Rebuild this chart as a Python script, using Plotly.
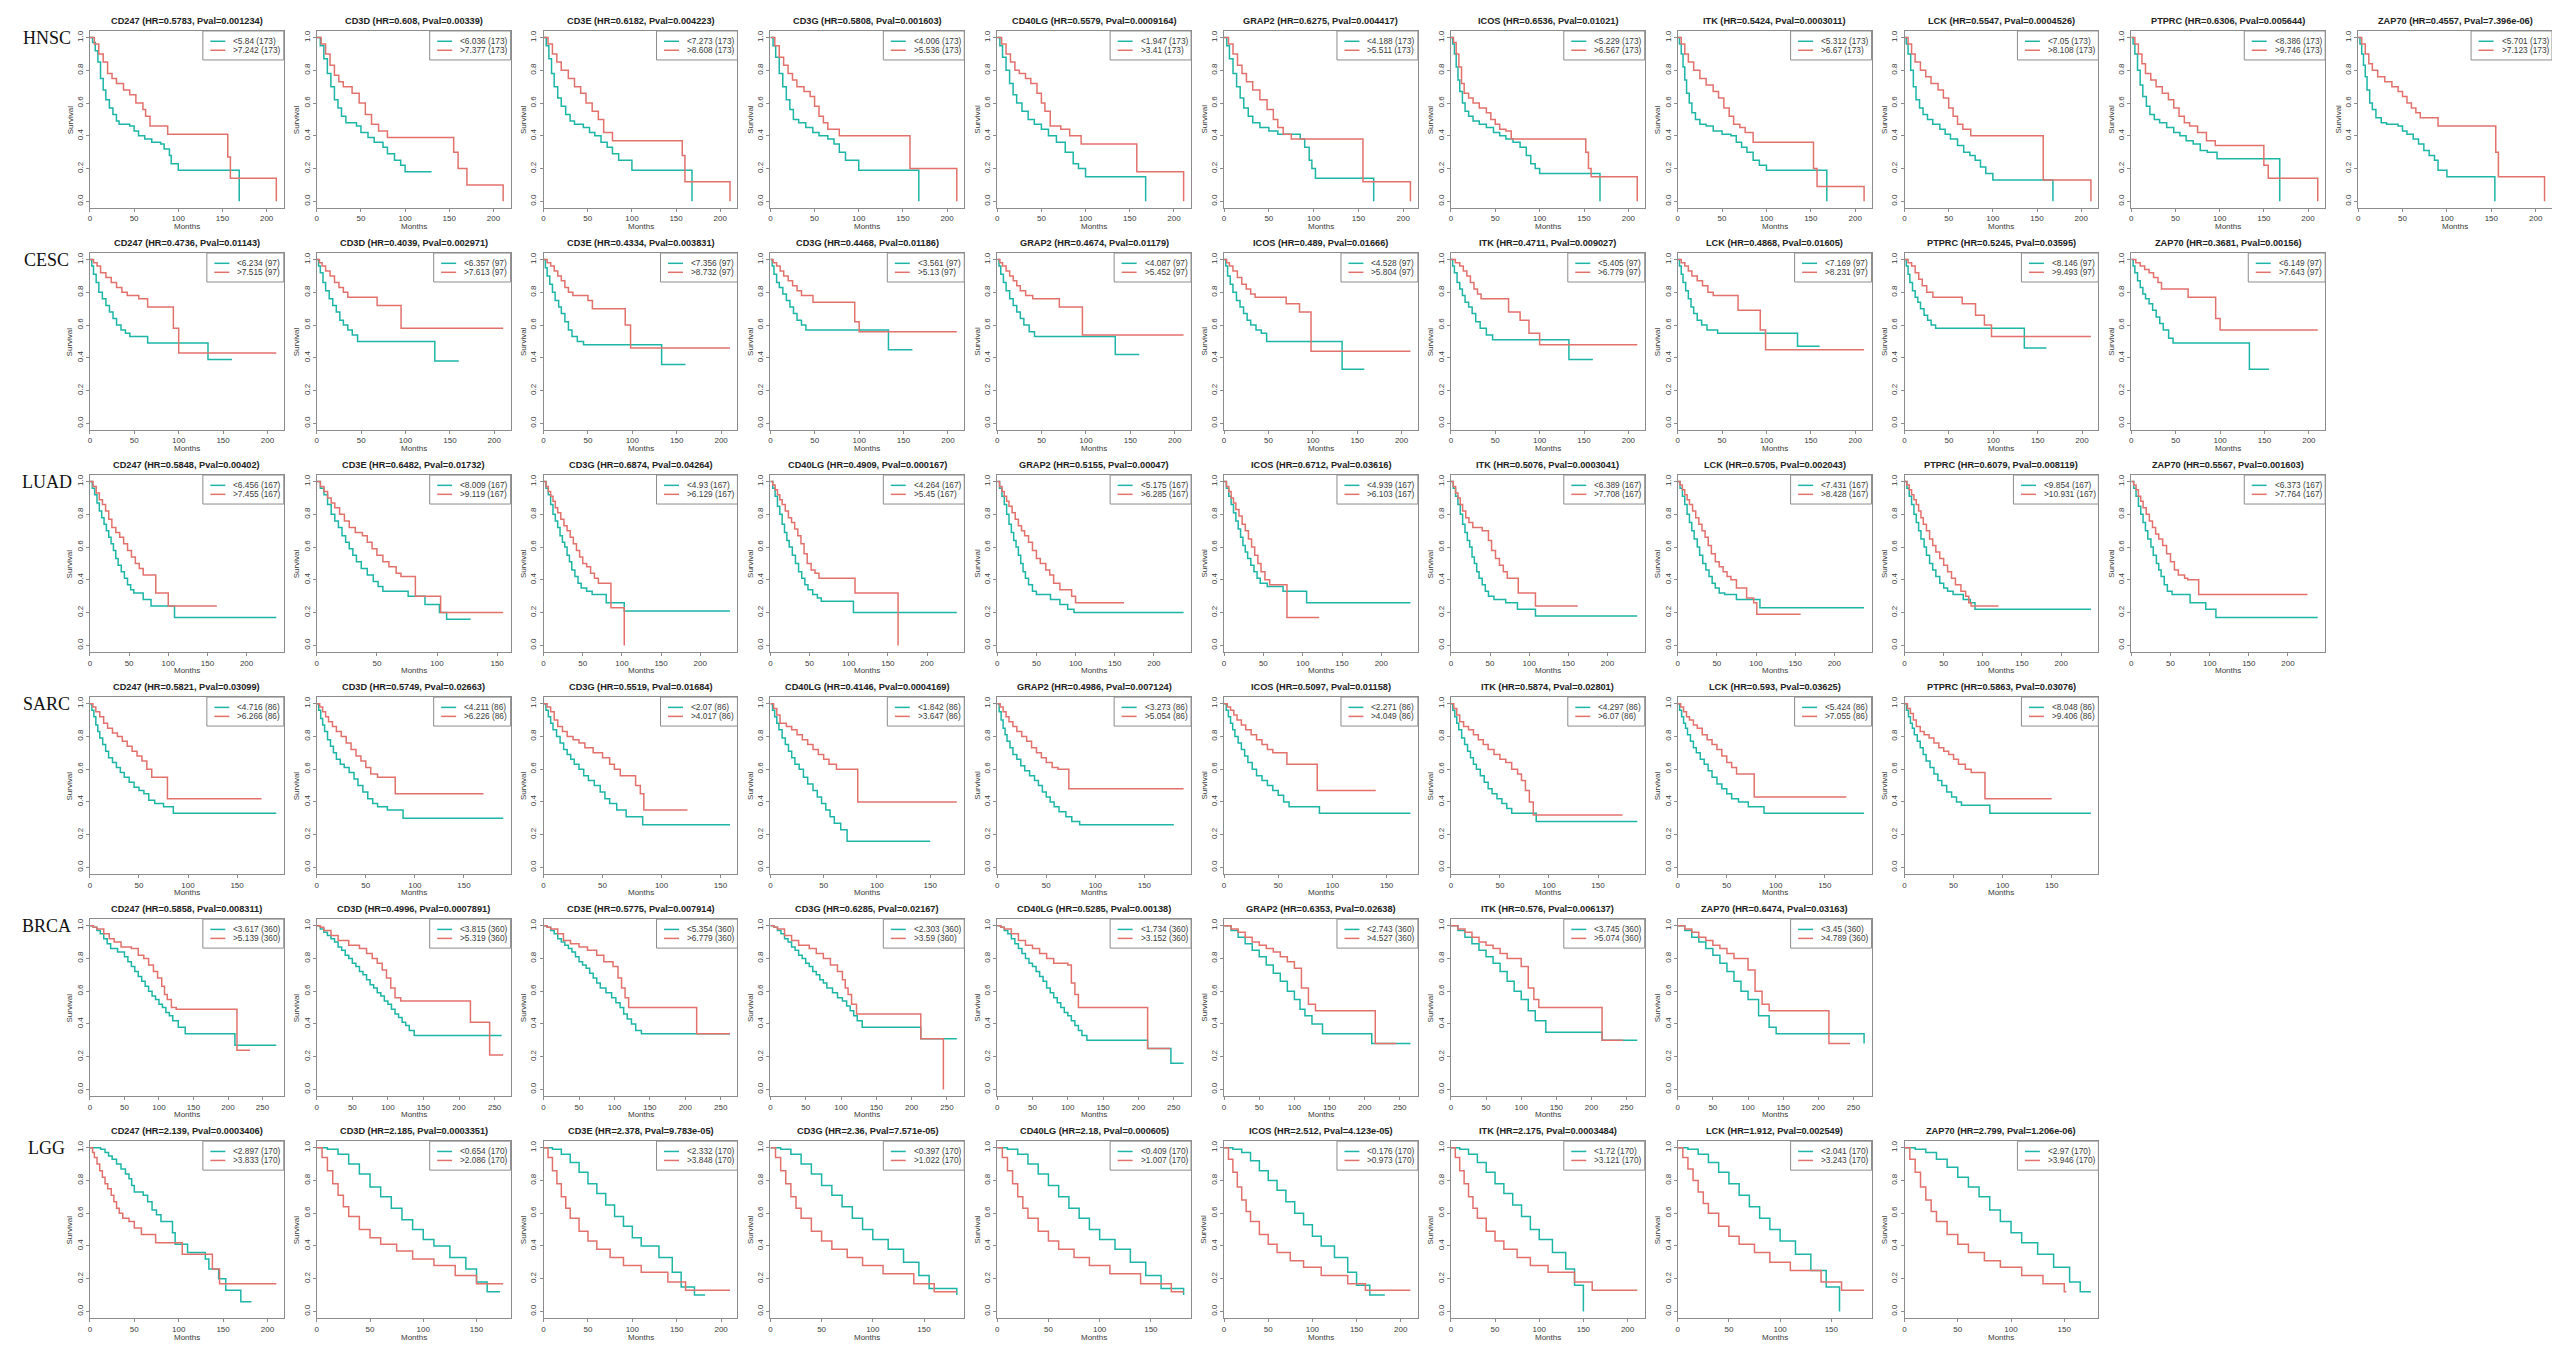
import plotly.graph_objects as go

# ---------------- DATA ----------------
# HNSC (n=173 per group)
HNSC_genes = ["CD247", "CD3D", "CD3E", "CD3G", "CD40LG", "GRAP2", "ICOS", "ITK", "LCK", "PTPRC", "ZAP70"]
HNSC_hr = ["0.5783", "0.608", "0.6182", "0.5808", "0.5579", "0.6275", "0.6536", "0.5424", "0.5547", "0.6306", "0.4557"]
HNSC_pval = ["0.001234", "0.00339", "0.004223", "0.001603", "0.0009164", "0.004417", "0.01021", "0.0003011", "0.0004526", "0.005644", "7.396e-06"]
HNSC_lowcut = ["5.84", "6.036", "7.273", "4.006", "1.947", "4.188", "5.229", "5.312", "7.05", "8.386", "5.701"]
HNSC_highcut = ["7.242", "7.377", "8.608", "5.536", "3.41", "5.511", "6.567", "6.67", "8.108", "9.746", "7.123"]
HNSC_n = 173
HNSC_low = [
    [[0,1],[3,0.97],[6,0.92],[9,0.85],[12,0.75],[15,0.68],[18,0.62],[22,0.57],[26,0.53],[30,0.49],[33,0.47],[45,0.46],[50,0.43],[55,0.40],[62,0.38],[70,0.36],[80,0.35],[84,0.32],[90,0.28],[92,0.23],[100,0.19],[169,0.19],[169,0.0]],
    [[0,1],[4,0.95],[8,0.87],[12,0.78],[16,0.7],[20,0.62],[24,0.57],[28,0.52],[33,0.48],[45,0.46],[50,0.42],[58,0.39],[65,0.36],[75,0.33],[80,0.29],[88,0.25],[95,0.22],[100,0.18],[130,0.18]],
    [[0,1],[3,0.95],[6,0.87],[9,0.78],[12,0.7],[16,0.63],[20,0.58],[25,0.53],[30,0.49],[35,0.47],[45,0.45],[52,0.42],[58,0.4],[65,0.36],[72,0.33],[78,0.29],[85,0.25],[100,0.19],[168,0.19],[168,0.0]],
    [[0,1],[3,0.95],[6,0.88],[10,0.78],[14,0.7],[18,0.62],[22,0.56],[26,0.5],[32,0.48],[40,0.45],[48,0.42],[55,0.4],[65,0.38],[72,0.35],[78,0.3],[85,0.25],[100,0.19],[168,0.19],[168,0.0]],
    [[0,1],[3,0.95],[6,0.88],[10,0.8],[14,0.72],[18,0.65],[22,0.6],[28,0.55],[35,0.5],[42,0.47],[50,0.44],[58,0.4],[67,0.36],[77,0.3],[86,0.23],[92,0.2],[100,0.15],[168,0.15],[168,0.0]],
    [[0,1],[3,0.95],[6,0.87],[10,0.78],[14,0.7],[18,0.63],[22,0.57],[27,0.52],[32,0.48],[40,0.45],[50,0.43],[60,0.41],[85,0.38],[90,0.33],[95,0.25],[98,0.2],[102,0.14],[167,0.14],[167,0.0]],
    [[0,1],[2,0.96],[4,0.9],[6,0.82],[8,0.74],[10,0.67],[13,0.6],[16,0.55],[20,0.52],[25,0.49],[32,0.47],[40,0.45],[48,0.42],[55,0.4],[62,0.38],[70,0.36],[78,0.33],[85,0.28],[90,0.23],[95,0.2],[100,0.17],[168,0.17],[168,0.0]],
    [[0,1],[2,0.96],[4,0.9],[6,0.82],[8,0.74],[10,0.66],[13,0.6],[16,0.54],[20,0.5],[25,0.47],[32,0.46],[40,0.43],[50,0.41],[60,0.4],[66,0.36],[72,0.33],[78,0.3],[85,0.25],[92,0.22],[100,0.19],[168,0.19],[168,0.0]],
    [[0,1],[2,0.96],[4,0.9],[7,0.8],[10,0.7],[13,0.62],[17,0.57],[21,0.53],[26,0.5],[32,0.47],[40,0.44],[46,0.41],[52,0.38],[60,0.34],[67,0.3],[74,0.28],[80,0.25],[86,0.21],[92,0.17],[100,0.13],[168,0.13],[168,0.0]],
    [[0,1],[2,0.96],[4,0.9],[7,0.8],[10,0.71],[13,0.64],[17,0.58],[21,0.53],[26,0.5],[32,0.48],[40,0.45],[48,0.42],[55,0.4],[62,0.37],[70,0.35],[78,0.31],[86,0.3],[97,0.26],[168,0.26],[168,0.0]],
    [[0,1],[2,0.96],[4,0.9],[6,0.83],[8,0.76],[10,0.68],[13,0.6],[16,0.56],[20,0.51],[26,0.48],[32,0.47],[45,0.46],[50,0.43],[55,0.41],[62,0.38],[68,0.35],[74,0.31],[80,0.28],[86,0.25],[90,0.19],[100,0.15],[154,0.15],[154,0.0]],
]
HNSC_high = [
    [[0,1],[5,0.96],[10,0.9],[15,0.85],[20,0.78],[25,0.75],[30,0.72],[38,0.68],[45,0.65],[52,0.6],[60,0.56],[63,0.52],[68,0.46],[88,0.41],[156,0.27],[159,0.14],[211,0.14],[211,0.0]],
    [[0,1],[5,0.96],[10,0.9],[15,0.83],[20,0.77],[25,0.73],[30,0.7],[40,0.66],[48,0.6],[55,0.53],[62,0.47],[70,0.43],[80,0.39],[155,0.3],[160,0.2],[170,0.1],[211,0.1],[211,0.0]],
    [[0,1],[5,0.96],[10,0.9],[15,0.85],[20,0.8],[28,0.75],[35,0.7],[42,0.66],[48,0.6],[55,0.55],[62,0.5],[68,0.42],[78,0.37],[157,0.28],[160,0.12],[211,0.12],[211,0.0]],
    [[0,1],[5,0.95],[10,0.88],[15,0.83],[20,0.78],[25,0.74],[30,0.7],[38,0.67],[45,0.64],[50,0.58],[55,0.52],[60,0.48],[65,0.44],[78,0.4],[158,0.2],[211,0.2],[211,0.0]],
    [[0,1],[5,0.96],[10,0.9],[15,0.85],[20,0.8],[25,0.78],[32,0.75],[38,0.72],[45,0.66],[50,0.6],[54,0.55],[60,0.46],[72,0.44],[82,0.4],[95,0.35],[158,0.18],[211,0.18],[211,0.0]],
    [[0,1],[5,0.96],[10,0.9],[15,0.83],[20,0.78],[25,0.73],[32,0.68],[40,0.62],[48,0.56],[55,0.5],[60,0.45],[66,0.41],[75,0.38],[155,0.12],[208,0.12],[208,0.0]],
    [[0,1],[3,0.97],[6,0.9],[9,0.82],[12,0.72],[15,0.66],[20,0.63],[25,0.6],[32,0.57],[40,0.54],[45,0.5],[50,0.47],[55,0.44],[62,0.43],[68,0.38],[152,0.3],[155,0.2],[158,0.15],[210,0.15],[210,0.0]],
    [[0,1],[4,0.96],[8,0.9],[12,0.85],[18,0.8],[25,0.75],[32,0.71],[40,0.67],[46,0.63],[52,0.57],[58,0.52],[63,0.47],[70,0.45],[76,0.42],[85,0.36],[153,0.2],[157,0.09],[210,0.09],[210,0.0]],
    [[0,1],[4,0.96],[8,0.9],[12,0.85],[18,0.8],[24,0.76],[30,0.72],[38,0.68],[44,0.63],[50,0.57],[55,0.52],[60,0.47],[66,0.44],[75,0.4],[157,0.13],[211,0.13],[211,0.0]],
    [[0,1],[4,0.96],[8,0.9],[12,0.84],[16,0.78],[22,0.74],[28,0.7],[35,0.66],[42,0.62],[48,0.57],[54,0.52],[60,0.48],[66,0.46],[75,0.42],[85,0.37],[95,0.34],[150,0.22],[155,0.14],[211,0.14],[211,0.0]],
    [[0,1],[4,0.96],[8,0.9],[12,0.84],[16,0.8],[22,0.76],[30,0.73],[38,0.7],[45,0.67],[50,0.64],[55,0.6],[60,0.57],[65,0.54],[70,0.51],[90,0.46],[155,0.3],[158,0.15],[210,0.15],[210,0.0]],
]

# CESC (n=97 per group)
CESC_genes = ["CD247", "CD3D", "CD3E", "CD3G", "GRAP2", "ICOS", "ITK", "LCK", "PTPRC", "ZAP70"]
CESC_hr = ["0.4736", "0.4039", "0.4334", "0.4468", "0.4674", "0.489", "0.4711", "0.4868", "0.5245", "0.3681"]
CESC_pval = ["0.01143", "0.002971", "0.003831", "0.01186", "0.01179", "0.01666", "0.009027", "0.01605", "0.03595", "0.00156"]
CESC_lowcut = ["6.234", "6.357", "7.356", "3.561", "4.087", "4.528", "5.405", "7.169", "8.146", "6.149"]
CESC_highcut = ["7.515", "7.613", "8.732", "5.13", "5.452", "5.804", "6.779", "8.231", "9.493", "7.643"]
CESC_n = 97
CESC_low = [
    [[0,1],[2,0.96],[4,0.91],[7,0.86],[10,0.8],[14,0.76],[18,0.72],[22,0.68],[26,0.64],[30,0.6],[35,0.57],[40,0.55],[45,0.53],[65,0.49],[133,0.39],[160,0.39]],
    [[0,1],[2,0.96],[4,0.92],[7,0.86],[10,0.81],[14,0.76],[18,0.72],[22,0.68],[26,0.63],[30,0.6],[35,0.57],[40,0.54],[46,0.5],[133,0.38],[160,0.38]],
    [[0,1],[2,0.95],[4,0.9],[7,0.85],[10,0.8],[13,0.75],[17,0.71],[20,0.67],[24,0.62],[28,0.57],[32,0.53],[38,0.5],[45,0.48],[133,0.36],[160,0.36]],
    [[0,1],[2,0.96],[4,0.91],[7,0.86],[10,0.83],[14,0.79],[18,0.75],[22,0.71],[26,0.67],[30,0.63],[35,0.6],[40,0.57],[133,0.45],[160,0.45]],
    [[0,1],[2,0.96],[4,0.91],[7,0.86],[10,0.81],[14,0.76],[18,0.72],[22,0.68],[26,0.64],[30,0.6],[36,0.56],[42,0.53],[133,0.42],[160,0.42]],
    [[0,1],[2,0.96],[4,0.9],[7,0.85],[10,0.8],[14,0.75],[18,0.71],[22,0.67],[26,0.63],[30,0.6],[36,0.57],[42,0.55],[48,0.5],[133,0.33],[158,0.33]],
    [[0,1],[2,0.96],[4,0.92],[7,0.86],[10,0.82],[13,0.78],[16,0.74],[20,0.71],[24,0.67],[28,0.62],[33,0.58],[40,0.54],[47,0.51],[133,0.39],[160,0.39]],
    [[0,1],[2,0.96],[4,0.91],[6,0.86],[9,0.81],[12,0.76],[15,0.71],[18,0.67],[22,0.63],[27,0.6],[33,0.57],[45,0.55],[135,0.47],[160,0.47]],
    [[0,1],[2,0.96],[4,0.91],[6,0.86],[9,0.81],[12,0.77],[15,0.74],[18,0.7],[22,0.66],[26,0.63],[30,0.6],[35,0.58],[135,0.46],[160,0.46]],
    [[0,1],[2,0.96],[4,0.92],[7,0.87],[10,0.83],[13,0.79],[16,0.76],[20,0.73],[24,0.69],[28,0.65],[32,0.61],[36,0.57],[42,0.52],[47,0.49],[133,0.33],[155,0.33]],
]
CESC_high = [
    [[0,1],[4,0.98],[8,0.96],[12,0.92],[18,0.89],[24,0.86],[30,0.83],[36,0.8],[42,0.78],[55,0.76],[65,0.71],[94,0.58],[100,0.43],[210,0.43]],
    [[0,1],[3,0.98],[6,0.96],[10,0.93],[15,0.9],[20,0.86],[25,0.83],[30,0.8],[35,0.77],[68,0.72],[95,0.58],[210,0.58]],
    [[0,1],[4,0.98],[8,0.96],[12,0.93],[16,0.9],[20,0.87],[24,0.83],[28,0.8],[33,0.78],[50,0.75],[55,0.7],[92,0.6],[98,0.46],[210,0.46]],
    [[0,1],[3,0.98],[7,0.96],[11,0.93],[15,0.9],[20,0.87],[25,0.84],[30,0.81],[35,0.78],[48,0.74],[95,0.62],[100,0.56],[210,0.56]],
    [[0,1],[3,0.98],[6,0.96],[10,0.93],[14,0.9],[18,0.87],[22,0.84],[26,0.81],[32,0.78],[40,0.76],[70,0.71],[96,0.54],[210,0.54]],
    [[0,1],[3,0.98],[6,0.96],[10,0.93],[15,0.89],[20,0.85],[25,0.82],[30,0.79],[35,0.77],[70,0.73],[85,0.68],[98,0.44],[210,0.44]],
    [[0,1],[5,0.98],[10,0.96],[14,0.93],[18,0.9],[22,0.86],[26,0.82],[30,0.79],[34,0.76],[65,0.68],[78,0.63],[88,0.55],[100,0.48],[210,0.48]],
    [[0,1],[4,0.98],[8,0.96],[12,0.93],[16,0.9],[22,0.87],[28,0.84],[34,0.8],[40,0.78],[68,0.69],[93,0.57],[99,0.45],[210,0.45]],
    [[0,1],[4,0.98],[8,0.96],[12,0.92],[16,0.88],[20,0.84],[25,0.8],[32,0.77],[65,0.73],[80,0.66],[90,0.6],[98,0.53],[210,0.53]],
    [[0,1],[5,0.98],[10,0.96],[15,0.94],[20,0.92],[25,0.89],[30,0.86],[34,0.82],[64,0.77],[95,0.64],[100,0.57],[210,0.57]],
]

# LUAD (n=167 per group)
LUAD_genes = ["CD247", "CD3E", "CD3G", "CD40LG", "GRAP2", "ICOS", "ITK", "LCK", "PTPRC", "ZAP70"]
LUAD_hr = ["0.5848", "0.6482", "0.6874", "0.4909", "0.5155", "0.6712", "0.5076", "0.5705", "0.6079", "0.5567"]
LUAD_pval = ["0.00402", "0.01732", "0.04264", "0.000167", "0.00047", "0.03616", "0.0003041", "0.002043", "0.008119", "0.001603"]
LUAD_lowcut = ["6.456", "8.009", "4.93", "4.264", "5.175", "4.939", "6.389", "7.431", "9.854", "6.373"]
LUAD_highcut = ["7.455", "9.119", "6.129", "5.45", "6.285", "6.103", "7.708", "8.428", "10.931", "7.764"]
LUAD_n = 167
LUAD_low = [
    [[0,1],[3,0.96],[6,0.92],[9,0.87],[12,0.82],[15,0.78],[18,0.74],[21,0.7],[24,0.66],[27,0.62],[30,0.58],[33,0.53],[36,0.49],[40,0.45],[44,0.41],[48,0.37],[52,0.34],[56,0.32],[68,0.28],[78,0.24],[108,0.17],[238,0.17]],
    [[0,1],[3,0.96],[6,0.92],[9,0.86],[12,0.8],[15,0.76],[18,0.72],[21,0.67],[24,0.63],[27,0.59],[30,0.55],[33,0.51],[37,0.47],[42,0.43],[47,0.39],[51,0.36],[55,0.33],[76,0.3],[90,0.25],[102,0.2],[108,0.16],[128,0.16]],
    [[0,1],[3,0.96],[6,0.92],[9,0.86],[12,0.8],[15,0.76],[18,0.72],[21,0.67],[24,0.63],[27,0.6],[30,0.55],[33,0.51],[36,0.46],[40,0.42],[44,0.38],[48,0.35],[55,0.33],[62,0.31],[80,0.26],[103,0.21],[238,0.21]],
    [[0,1],[3,0.96],[6,0.91],[9,0.85],[12,0.8],[15,0.74],[18,0.69],[21,0.64],[24,0.6],[28,0.55],[32,0.5],[36,0.45],[40,0.41],[44,0.37],[48,0.34],[54,0.31],[60,0.29],[65,0.27],[106,0.2],[238,0.2]],
    [[0,1],[3,0.96],[6,0.91],[9,0.86],[12,0.8],[15,0.74],[18,0.69],[21,0.64],[24,0.6],[27,0.55],[30,0.5],[33,0.45],[36,0.41],[40,0.37],[45,0.33],[50,0.31],[68,0.28],[80,0.25],[90,0.22],[98,0.2],[238,0.2]],
    [[0,1],[3,0.96],[6,0.91],[9,0.86],[12,0.81],[15,0.76],[18,0.71],[21,0.66],[24,0.61],[27,0.57],[30,0.53],[34,0.49],[38,0.45],[42,0.41],[46,0.38],[55,0.36],[75,0.33],[105,0.26],[237,0.26]],
    [[0,1],[3,0.96],[6,0.91],[9,0.86],[12,0.8],[15,0.74],[18,0.69],[21,0.64],[24,0.6],[27,0.54],[30,0.5],[33,0.45],[36,0.41],[40,0.37],[44,0.33],[48,0.3],[55,0.28],[70,0.26],[85,0.22],[108,0.18],[238,0.18]],
    [[0,1],[3,0.96],[6,0.91],[9,0.86],[12,0.8],[15,0.75],[18,0.7],[21,0.65],[25,0.6],[28,0.55],[32,0.5],[36,0.46],[40,0.42],[44,0.38],[48,0.35],[53,0.32],[60,0.31],[75,0.28],[105,0.23],[238,0.23]],
    [[0,1],[3,0.96],[6,0.91],[9,0.86],[12,0.8],[15,0.75],[18,0.7],[21,0.65],[25,0.6],[28,0.55],[32,0.5],[36,0.46],[40,0.42],[45,0.38],[50,0.35],[55,0.33],[62,0.31],[75,0.28],[84,0.26],[90,0.22],[238,0.22]],
    [[0,1],[3,0.96],[6,0.91],[9,0.85],[12,0.8],[15,0.75],[18,0.7],[21,0.65],[25,0.6],[28,0.55],[32,0.5],[35,0.46],[38,0.42],[42,0.37],[46,0.33],[52,0.31],[75,0.26],[95,0.22],[108,0.17],[238,0.17]],
]
LUAD_high = [
    [[0,1],[4,0.97],[8,0.93],[12,0.89],[16,0.86],[20,0.82],[24,0.77],[28,0.72],[33,0.69],[38,0.66],[43,0.62],[48,0.58],[53,0.54],[58,0.5],[63,0.47],[68,0.43],[84,0.32],[100,0.24],[162,0.24]],
    [[0,1],[3,0.97],[6,0.94],[9,0.9],[12,0.87],[15,0.84],[19,0.8],[23,0.76],[27,0.72],[32,0.69],[38,0.67],[42,0.63],[46,0.59],[50,0.55],[55,0.51],[60,0.48],[66,0.44],[70,0.42],[82,0.3],[103,0.2],[155,0.2]],
    [[0,1],[3,0.97],[6,0.94],[9,0.91],[12,0.88],[15,0.84],[18,0.81],[22,0.77],[26,0.73],[30,0.7],[34,0.66],[38,0.62],[42,0.58],[46,0.54],[50,0.5],[55,0.48],[60,0.44],[65,0.41],[70,0.38],[86,0.23],[103,0.0]],
    [[0,1],[3,0.98],[6,0.95],[9,0.92],[12,0.89],[15,0.86],[19,0.82],[23,0.78],[27,0.75],[31,0.71],[35,0.67],[39,0.62],[43,0.56],[47,0.5],[52,0.46],[57,0.44],[62,0.41],[108,0.32],[163,0.0]],
    [[0,1],[3,0.97],[6,0.94],[9,0.91],[12,0.88],[15,0.85],[19,0.81],[23,0.77],[27,0.73],[31,0.7],[35,0.67],[40,0.63],[45,0.58],[50,0.53],[55,0.5],[62,0.46],[67,0.43],[72,0.38],[80,0.34],[95,0.3],[100,0.26],[162,0.26]],
    [[0,1],[3,0.97],[6,0.94],[9,0.9],[12,0.87],[15,0.83],[19,0.79],[23,0.74],[27,0.7],[31,0.65],[35,0.6],[39,0.55],[43,0.5],[47,0.45],[52,0.4],[58,0.37],[80,0.17],[121,0.17]],
    [[0,1],[3,0.97],[6,0.93],[9,0.9],[12,0.86],[15,0.82],[19,0.78],[23,0.75],[28,0.72],[40,0.7],[48,0.64],[52,0.58],[57,0.53],[62,0.49],[67,0.45],[72,0.41],[86,0.32],[108,0.24],[162,0.24]],
    [[0,1],[3,0.98],[6,0.95],[9,0.92],[12,0.89],[15,0.86],[19,0.82],[23,0.78],[27,0.74],[31,0.7],[35,0.66],[39,0.61],[43,0.56],[48,0.51],[53,0.48],[58,0.45],[63,0.42],[68,0.4],[75,0.35],[88,0.29],[97,0.26],[101,0.19],[157,0.19]],
    [[0,1],[3,0.98],[6,0.95],[9,0.92],[12,0.89],[15,0.86],[18,0.82],[21,0.78],[24,0.74],[28,0.7],[32,0.65],[36,0.61],[40,0.57],[45,0.53],[50,0.49],[55,0.45],[60,0.41],[65,0.37],[72,0.33],[78,0.3],[82,0.26],[85,0.24],[120,0.24]],
    [[0,1],[3,0.98],[6,0.95],[9,0.91],[12,0.88],[15,0.84],[19,0.8],[23,0.76],[27,0.72],[31,0.68],[35,0.65],[40,0.61],[45,0.56],[50,0.51],[55,0.46],[60,0.43],[68,0.41],[72,0.4],[86,0.31],[225,0.31]],
]

# SARC (n=86 per group)
SARC_genes = ["CD247", "CD3D", "CD3G", "CD40LG", "GRAP2", "ICOS", "ITK", "LCK", "PTPRC"]
SARC_hr = ["0.5821", "0.5749", "0.5519", "0.4146", "0.4986", "0.5097", "0.5874", "0.593", "0.5863"]
SARC_pval = ["0.03099", "0.02663", "0.01684", "0.0004169", "0.007124", "0.01158", "0.02801", "0.03625", "0.03076"]
SARC_lowcut = ["4.716", "4.211", "2.07", "1.842", "3.273", "2.271", "4.297", "5.424", "8.048"]
SARC_highcut = ["6.266", "6.226", "4.017", "3.647", "5.054", "4.049", "6.07", "7.055", "9.406"]
SARC_n = 86
SARC_low = [
    [[0,1],[2,0.96],[4,0.92],[6,0.87],[8,0.83],[10,0.79],[13,0.75],[16,0.71],[19,0.67],[23,0.64],[27,0.61],[31,0.58],[35,0.55],[40,0.52],[45,0.49],[50,0.47],[55,0.45],[60,0.41],[66,0.39],[75,0.37],[85,0.33],[190,0.33]],
    [[0,1],[2,0.96],[4,0.91],[6,0.87],[8,0.83],[11,0.78],[14,0.74],[17,0.7],[20,0.66],[24,0.63],[28,0.61],[33,0.58],[38,0.54],[42,0.5],[47,0.46],[52,0.42],[57,0.39],[62,0.37],[72,0.35],[88,0.3],[190,0.3]],
    [[0,1],[2,0.96],[4,0.92],[6,0.88],[8,0.84],[11,0.8],[14,0.76],[17,0.72],[20,0.69],[23,0.66],[26,0.63],[30,0.6],[34,0.56],[38,0.53],[43,0.5],[48,0.46],[52,0.42],[56,0.39],[62,0.35],[70,0.31],[84,0.26],[158,0.26]],
    [[0,1],[2,0.96],[4,0.92],[6,0.88],[8,0.84],[11,0.79],[14,0.75],[17,0.71],[20,0.67],[23,0.63],[27,0.6],[31,0.55],[35,0.51],[40,0.47],[44,0.43],[48,0.39],[52,0.35],[56,0.31],[60,0.27],[66,0.23],[72,0.16],[150,0.16]],
    [[0,1],[2,0.95],[4,0.9],[6,0.85],[8,0.81],[10,0.77],[13,0.73],[16,0.69],[20,0.66],[24,0.62],[28,0.59],[33,0.56],[38,0.53],[42,0.5],[46,0.46],[50,0.43],[54,0.4],[58,0.37],[63,0.34],[70,0.31],[76,0.28],[84,0.26],[180,0.26]],
    [[0,1],[2,0.96],[4,0.92],[6,0.88],[8,0.84],[10,0.8],[13,0.76],[16,0.72],[19,0.68],[22,0.64],[26,0.6],[30,0.56],[35,0.53],[40,0.5],[45,0.47],[50,0.44],[55,0.4],[60,0.37],[88,0.33],[172,0.33]],
    [[0,1],[2,0.96],[4,0.92],[6,0.88],[8,0.84],[11,0.79],[14,0.75],[17,0.71],[20,0.67],[23,0.63],[26,0.6],[30,0.56],[34,0.52],[38,0.48],[42,0.45],[47,0.42],[52,0.39],[57,0.36],[62,0.33],[87,0.28],[190,0.28]],
    [[0,1],[2,0.96],[4,0.92],[6,0.88],[8,0.85],[10,0.81],[13,0.77],[16,0.73],[19,0.7],[23,0.66],[27,0.63],[31,0.59],[35,0.55],[40,0.51],[45,0.48],[50,0.45],[55,0.42],[62,0.4],[72,0.37],[88,0.33],[190,0.33]],
    [[0,1],[2,0.96],[4,0.92],[6,0.88],[8,0.85],[10,0.81],[13,0.77],[16,0.73],[19,0.69],[22,0.65],[26,0.61],[30,0.57],[34,0.53],[38,0.5],[43,0.46],[48,0.43],[53,0.4],[58,0.38],[87,0.33],[190,0.33]],
]
SARC_high = [
    [[0,1],[3,0.98],[6,0.95],[10,0.92],[14,0.88],[18,0.85],[23,0.82],[28,0.8],[33,0.77],[38,0.74],[43,0.71],[48,0.68],[53,0.65],[58,0.6],[63,0.55],[79,0.42],[175,0.42]],
    [[0,1],[3,0.98],[6,0.95],[9,0.92],[12,0.89],[16,0.86],[20,0.83],[25,0.8],[30,0.76],[35,0.72],[40,0.68],[45,0.65],[50,0.61],[55,0.57],[62,0.55],[80,0.45],[170,0.45]],
    [[0,1],[3,0.98],[6,0.95],[9,0.9],[12,0.86],[16,0.83],[20,0.8],[25,0.78],[30,0.76],[35,0.73],[42,0.7],[50,0.67],[56,0.63],[60,0.6],[65,0.56],[78,0.5],[82,0.45],[85,0.35],[122,0.35]],
    [[0,1],[3,0.97],[6,0.93],[9,0.88],[15,0.86],[20,0.84],[25,0.81],[30,0.78],[35,0.75],[40,0.72],[45,0.69],[50,0.66],[55,0.63],[62,0.6],[82,0.4],[175,0.4]],
    [[0,1],[3,0.98],[6,0.95],[9,0.92],[12,0.89],[16,0.86],[20,0.83],[25,0.8],[30,0.77],[35,0.73],[40,0.7],[45,0.67],[50,0.64],[56,0.61],[62,0.6],[73,0.48],[190,0.48]],
    [[0,1],[3,0.98],[6,0.96],[9,0.93],[12,0.9],[16,0.87],[20,0.84],[25,0.81],[30,0.78],[35,0.75],[40,0.72],[45,0.7],[58,0.63],[86,0.47],[140,0.47]],
    [[0,1],[3,0.97],[6,0.93],[9,0.89],[13,0.86],[18,0.84],[23,0.81],[28,0.78],[33,0.75],[38,0.72],[44,0.69],[50,0.66],[56,0.64],[62,0.6],[68,0.57],[72,0.53],[76,0.47],[80,0.4],[84,0.32],[175,0.32]],
    [[0,1],[3,0.98],[6,0.95],[9,0.92],[12,0.9],[16,0.87],[20,0.85],[25,0.81],[30,0.78],[35,0.75],[40,0.72],[45,0.68],[50,0.64],[55,0.61],[60,0.57],[78,0.43],[172,0.43]],
    [[0,1],[3,0.97],[6,0.94],[9,0.9],[12,0.86],[16,0.83],[20,0.81],[25,0.79],[30,0.76],[35,0.73],[40,0.71],[45,0.69],[50,0.66],[55,0.63],[62,0.6],[68,0.58],[82,0.42],[150,0.42]],
]

# BRCA (n=360 per group)
BRCA_genes = ["CD247", "CD3D", "CD3E", "CD3G", "CD40LG", "GRAP2", "ITK", "ZAP70"]
BRCA_hr = ["0.5858", "0.4996", "0.5775", "0.6285", "0.5285", "0.6353", "0.576", "0.6474"]
BRCA_pval = ["0.008311", "0.0007891", "0.007914", "0.02167", "0.00138", "0.02638", "0.006137", "0.03163"]
BRCA_lowcut = ["3.617", "3.815", "5.354", "2.303", "1.734", "2.743", "3.745", "3.45"]
BRCA_highcut = ["5.139", "5.319", "6.779", "3.59", "3.152", "4.527", "5.074", "4.789"]
BRCA_n = 360
BRCA_low = [
    [[0,1],[5,0.99],[10,0.97],[15,0.95],[20,0.92],[25,0.89],[30,0.86],[40,0.84],[50,0.81],[55,0.78],[60,0.75],[65,0.72],[70,0.69],[75,0.66],[80,0.63],[85,0.6],[90,0.57],[95,0.55],[100,0.52],[105,0.5],[110,0.47],[115,0.45],[120,0.42],[128,0.38],[138,0.34],[210,0.27],[270,0.27]],
    [[0,1],[5,0.98],[10,0.96],[15,0.94],[20,0.92],[25,0.9],[30,0.87],[35,0.85],[40,0.82],[45,0.8],[50,0.77],[55,0.75],[60,0.72],[65,0.7],[70,0.67],[75,0.64],[80,0.62],[85,0.59],[90,0.57],[95,0.54],[100,0.52],[105,0.49],[110,0.46],[115,0.44],[120,0.41],[125,0.39],[130,0.36],[137,0.33],[260,0.33]],
    [[0,1],[5,0.99],[10,0.97],[15,0.95],[20,0.92],[25,0.9],[30,0.88],[35,0.86],[40,0.84],[45,0.81],[50,0.78],[55,0.76],[60,0.74],[65,0.71],[70,0.68],[75,0.65],[80,0.62],[88,0.59],[96,0.56],[102,0.53],[108,0.5],[113,0.46],[118,0.43],[124,0.4],[130,0.36],[138,0.34],[263,0.34]],
    [[0,1],[5,0.99],[10,0.97],[15,0.95],[20,0.92],[25,0.9],[30,0.87],[35,0.85],[40,0.82],[45,0.8],[50,0.77],[55,0.75],[60,0.72],[65,0.7],[70,0.67],[75,0.65],[80,0.62],[88,0.59],[95,0.56],[102,0.54],[108,0.51],[113,0.48],[118,0.45],[123,0.42],[130,0.38],[213,0.31],[264,0.31]],
    [[0,1],[5,0.99],[10,0.97],[15,0.95],[20,0.92],[25,0.89],[30,0.86],[35,0.83],[40,0.8],[45,0.77],[50,0.75],[55,0.72],[60,0.69],[65,0.66],[70,0.62],[75,0.59],[80,0.56],[85,0.53],[90,0.5],[95,0.47],[100,0.45],[105,0.42],[110,0.39],[115,0.36],[120,0.33],[127,0.3],[213,0.25],[246,0.16],[264,0.16]],
    [[0,1],[10,0.97],[20,0.93],[30,0.89],[40,0.85],[50,0.81],[60,0.76],[70,0.71],[80,0.66],[90,0.6],[100,0.55],[108,0.49],[115,0.45],[125,0.4],[140,0.34],[210,0.28],[265,0.28]],
    [[0,1],[10,0.97],[20,0.93],[30,0.89],[40,0.85],[50,0.81],[60,0.77],[70,0.72],[80,0.66],[90,0.6],[100,0.55],[110,0.48],[120,0.42],[135,0.35],[215,0.3],[265,0.3]],
    [[0,1],[10,0.97],[20,0.93],[30,0.9],[40,0.86],[50,0.82],[60,0.77],[70,0.72],[80,0.66],[90,0.6],[100,0.55],[115,0.45],[130,0.38],[140,0.34],[265,0.28]],
]
BRCA_high = [
    [[0,1],[5,0.99],[10,0.98],[20,0.95],[28,0.92],[35,0.9],[45,0.87],[60,0.86],[70,0.82],[78,0.8],[85,0.76],[92,0.72],[98,0.68],[104,0.63],[108,0.58],[112,0.55],[118,0.5],[125,0.49],[213,0.24],[232,0.24]],
    [[0,1],[5,0.99],[10,0.97],[20,0.94],[30,0.91],[45,0.88],[60,0.86],[70,0.83],[78,0.8],[85,0.77],[92,0.73],[98,0.68],[104,0.62],[110,0.56],[118,0.54],[216,0.41],[243,0.21],[262,0.21]],
    [[0,1],[5,0.99],[10,0.98],[20,0.95],[28,0.91],[38,0.89],[50,0.87],[62,0.85],[75,0.82],[85,0.78],[98,0.75],[105,0.68],[110,0.62],[115,0.56],[120,0.5],[216,0.34],[263,0.34]],
    [[0,1],[5,0.99],[10,0.98],[20,0.94],[30,0.91],[40,0.88],[55,0.86],[65,0.83],[75,0.8],[85,0.76],[95,0.72],[102,0.67],[106,0.62],[110,0.58],[115,0.52],[122,0.46],[213,0.31],[245,0.0]],
    [[0,1],[5,0.99],[10,0.98],[20,0.95],[30,0.91],[40,0.88],[50,0.86],[60,0.83],[70,0.8],[80,0.77],[100,0.76],[105,0.65],[110,0.58],[115,0.5],[213,0.25],[245,0.25]],
    [[0,1],[10,0.98],[20,0.96],[30,0.93],[40,0.9],[50,0.88],[60,0.86],[70,0.84],[80,0.81],[90,0.78],[100,0.74],[110,0.62],[120,0.52],[130,0.48],[215,0.28],[245,0.28]],
    [[0,1],[10,0.98],[20,0.96],[30,0.93],[40,0.9],[50,0.88],[60,0.86],[70,0.83],[80,0.8],[100,0.75],[110,0.62],[118,0.55],[125,0.5],[215,0.3],[245,0.3]],
    [[0,1],[10,0.98],[20,0.96],[30,0.93],[40,0.91],[50,0.88],[60,0.86],[70,0.83],[80,0.8],[100,0.73],[110,0.6],[120,0.52],[130,0.48],[215,0.28],[245,0.28]],
]

# LGG (n=170 per group)
LGG_genes = ["CD247", "CD3D", "CD3E", "CD3G", "CD40LG", "ICOS", "ITK", "LCK", "ZAP70"]
LGG_hr = ["2.139", "2.185", "2.378", "2.36", "2.18", "2.512", "2.175", "1.912", "2.799"]
LGG_pval = ["0.0003406", "0.0003351", "9.783e-05", "7.571e-05", "0.000605", "4.123e-05", "0.0003484", "0.002549", "1.206e-06"]
LGG_lowcut = ["2.897", "0.654", "2.332", "0.397", "0.409", "0.176", "1.72", "2.041", "2.97"]
LGG_highcut = ["3.833", "2.086", "3.848", "1.022", "1.007", "0.973", "3.121", "3.243", "3.946"]
LGG_n = 170
LGG_low = [
    [[0,1],[5,1.0],[12,0.99],[17,0.97],[21,0.95],[25,0.93],[30,0.9],[35,0.87],[40,0.84],[44,0.81],[47,0.77],[50,0.73],[60,0.71],[65,0.67],[70,0.62],[75,0.59],[80,0.55],[93,0.48],[96,0.41],[110,0.36],[130,0.32],[134,0.26],[145,0.2],[153,0.13],[170,0.06],[182,0.06]],
    [[0,1],[10,0.99],[20,0.96],[30,0.9],[40,0.84],[50,0.76],[60,0.7],[70,0.63],[80,0.56],[90,0.5],[100,0.44],[110,0.4],[125,0.33],[140,0.26],[150,0.18],[160,0.12],[172,0.12]],
    [[0,1],[10,0.99],[20,0.96],[30,0.91],[40,0.85],[50,0.78],[60,0.72],[70,0.65],[80,0.58],[90,0.52],[100,0.45],[110,0.4],[130,0.33],[145,0.24],[155,0.15],[170,0.1],[182,0.1]],
    [[0,1],[10,0.99],[20,0.96],[30,0.9],[40,0.84],[50,0.77],[60,0.71],[70,0.64],[80,0.57],[90,0.5],[100,0.44],[115,0.38],[130,0.3],[145,0.22],[155,0.14],[182,0.1]],
    [[0,1],[10,0.99],[20,0.96],[30,0.9],[40,0.84],[50,0.77],[60,0.7],[70,0.63],[80,0.57],[90,0.5],[100,0.44],[115,0.38],[130,0.3],[145,0.22],[160,0.14],[182,0.1]],
    [[0,1],[10,0.99],[20,0.97],[30,0.92],[40,0.86],[50,0.8],[60,0.74],[70,0.67],[80,0.6],[90,0.53],[100,0.46],[110,0.4],[125,0.33],[140,0.24],[150,0.16],[165,0.1],[182,0.1]],
    [[0,1],[10,0.99],[20,0.96],[30,0.91],[40,0.85],[50,0.78],[60,0.72],[70,0.65],[80,0.58],[90,0.5],[100,0.44],[115,0.36],[130,0.26],[140,0.16],[150,0.0]],
    [[0,1],[10,0.99],[20,0.96],[30,0.91],[40,0.85],[50,0.78],[60,0.71],[70,0.64],[80,0.57],[90,0.5],[100,0.43],[115,0.35],[130,0.25],[145,0.15],[158,0.0]],
    [[0,1],[10,0.99],[20,0.97],[30,0.93],[40,0.88],[50,0.82],[60,0.76],[70,0.7],[80,0.62],[90,0.55],[100,0.48],[110,0.42],[125,0.35],[140,0.27],[155,0.18],[165,0.12],[175,0.12]],
]
LGG_high = [
    [[0,1],[3,0.97],[5,0.94],[8,0.9],[11,0.86],[14,0.82],[17,0.78],[20,0.75],[24,0.71],[27,0.67],[30,0.63],[33,0.6],[37,0.57],[44,0.55],[50,0.51],[58,0.47],[74,0.42],[104,0.35],[138,0.26],[146,0.17],[210,0.17]],
    [[0,1],[5,0.94],[10,0.86],[15,0.78],[20,0.71],[25,0.64],[30,0.58],[40,0.5],[50,0.45],[60,0.41],[75,0.37],[90,0.32],[110,0.28],[130,0.22],[150,0.17],[175,0.17]],
    [[0,1],[5,0.94],[10,0.86],[15,0.78],[20,0.7],[25,0.63],[30,0.57],[40,0.49],[50,0.43],[60,0.38],[75,0.33],[90,0.28],[110,0.24],[140,0.18],[160,0.13],[210,0.13]],
    [[0,1],[5,0.94],[10,0.86],[15,0.78],[20,0.7],[25,0.63],[30,0.57],[40,0.49],[50,0.43],[60,0.38],[75,0.33],[90,0.28],[110,0.23],[140,0.17],[160,0.12],[182,0.12]],
    [[0,1],[5,0.94],[10,0.86],[15,0.78],[20,0.7],[25,0.63],[30,0.57],[40,0.49],[50,0.43],[60,0.38],[75,0.33],[90,0.28],[110,0.23],[140,0.17],[170,0.12],[182,0.12]],
    [[0,1],[5,0.93],[10,0.85],[15,0.76],[20,0.68],[25,0.61],[30,0.55],[40,0.47],[50,0.41],[60,0.36],[75,0.31],[90,0.27],[110,0.22],[140,0.17],[160,0.13],[211,0.13]],
    [[0,1],[5,0.94],[10,0.86],[15,0.78],[20,0.7],[25,0.63],[30,0.57],[40,0.49],[50,0.43],[60,0.38],[75,0.33],[90,0.28],[110,0.24],[140,0.18],[160,0.13],[211,0.13]],
    [[0,1],[5,0.94],[10,0.87],[15,0.8],[20,0.73],[25,0.66],[30,0.6],[40,0.52],[50,0.46],[60,0.41],[75,0.36],[90,0.3],[110,0.25],[140,0.18],[160,0.13],[182,0.13]],
    [[0,1],[5,0.93],[10,0.85],[15,0.76],[20,0.68],[25,0.61],[30,0.55],[40,0.47],[50,0.41],[60,0.36],[75,0.31],[90,0.27],[110,0.22],[130,0.17],[150,0.12],[152,0.12]],
]

ROWS = [
    ("HNSC", HNSC_genes, HNSC_hr, HNSC_pval, HNSC_lowcut, HNSC_highcut, HNSC_n, HNSC_low, HNSC_high),
    ("CESC", CESC_genes, CESC_hr, CESC_pval, CESC_lowcut, CESC_highcut, CESC_n, CESC_low, CESC_high),
    ("LUAD", LUAD_genes, LUAD_hr, LUAD_pval, LUAD_lowcut, LUAD_highcut, LUAD_n, LUAD_low, LUAD_high),
    ("SARC", SARC_genes, SARC_hr, SARC_pval, SARC_lowcut, SARC_highcut, SARC_n, SARC_low, SARC_high),
    ("BRCA", BRCA_genes, BRCA_hr, BRCA_pval, BRCA_lowcut, BRCA_highcut, BRCA_n, BRCA_low, BRCA_high),
    ("LGG", LGG_genes, LGG_hr, LGG_pval, LGG_lowcut, LGG_highcut, LGG_n, LGG_low, LGG_high),
]

# ---------------- STYLE / LAYOUT ----------------
W, H = 2560, 1353
TEAL = "#1DB5A6"
RED = "#E2716C"
FRAME = "#8c8c8c"
TXT = "#3a3a3a"
SANS = "Liberation Sans, Arial, sans-serif"
SERIF = "Liberation Serif, Times New Roman, serif"
PW, PH = 194, 177          # plot area size in px
COL0, COLSTEP = 80, 227
ROW0, ROWSTEP = 22, 222.2
LW = 1.5


def px(x):
    return x / W


def py(y):
    return 1 - y / H


fig = go.Figure()
layout = {}
annotations = []
shapes = []
idx = 0
for r, (cancer, genes, hrs, pvals, lowcut, highcut, n, lows, highs) in enumerate(ROWS):
    top = ROW0 + ROWSTEP * r
    annotations.append(dict(x=px(37), y=py(top + 7), xref="paper", yref="paper", text=cancer,
                            showarrow=False, xanchor="center", yanchor="middle",
                            font=dict(family=SERIF, size=18, color="#111")))
    for c, gene in enumerate(genes):
        idx += 1
        sfx = "" if idx == 1 else str(idx)
        left = COL0 + COLSTEP * c
        right = left + PW
        bottom = top + PH
        low = lows[c]
        high = highs[c]
        xmax = max(max(p[0] for p in low), max(p[0] for p in high))
        fig.add_trace(go.Scatter(x=[p[0] for p in low], y=[p[1] for p in low], mode="lines",
                                 line=dict(color=TEAL, width=LW, shape="hv"),
                                 xaxis="x" + sfx, yaxis="y" + sfx, showlegend=False, hoverinfo="skip"))
        fig.add_trace(go.Scatter(x=[p[0] for p in high], y=[p[1] for p in high], mode="lines",
                                 line=dict(color=RED, width=LW, shape="hv"),
                                 xaxis="x" + sfx, yaxis="y" + sfx, showlegend=False, hoverinfo="skip"))
        common = dict(showline=True, linecolor=FRAME, linewidth=1, mirror=True, ticks="outside",
                      ticklen=3, tickcolor=FRAME, showgrid=False, zeroline=False,
                      tickfont=dict(family=SANS, size=8, color=TXT), fixedrange=True)
        layout["xaxis" + sfx] = dict(domain=[px(left), px(right)], anchor="y" + sfx,
                                     range=[0, xmax * 1.04], tickmode="linear", tick0=0, dtick=50, **common)
        layout["yaxis" + sfx] = dict(domain=[py(bottom), py(top)], anchor="x" + sfx,
                                     range=[-0.04, 1.04], tickmode="array",
                                     tickvals=[0, 0.2, 0.4, 0.6, 0.8, 1.0],
                                     ticktext=["0.0", "0.2", "0.4", "0.6", "0.8", "1.0"],
                                     tickangle=-90, **common)
        # title
        annotations.append(dict(x=px(left + PW / 2), y=py(top - 10), xref="paper", yref="paper",
                                text="<b>%s (HR=%s, Pval=%s)</b>" % (gene, hrs[c], pvals[c]),
                                showarrow=False, xanchor="center", yanchor="middle",
                                font=dict(family=SANS, size=9.2, color="#222")))
        # axis labels
        annotations.append(dict(x=px(left + PW / 2), y=py(bottom + 19), xref="paper", yref="paper",
                                text="Months", showarrow=False, xanchor="center", yanchor="middle",
                                font=dict(family=SANS, size=8, color=TXT)))
        annotations.append(dict(x=px(left - 20), y=py(top + PH / 2), xref="paper", yref="paper",
                                text="Survival", textangle=-90, showarrow=False,
                                xanchor="center", yanchor="middle",
                                font=dict(family=SANS, size=8, color=TXT)))
        # legend box
        lab1 = "<%s (%d)" % (lowcut[c], n)
        lab2 = ">%s (%d)" % (highcut[c], n)
        bw = 33 + 4.0 * max(len(lab1), len(lab2))
        bx0 = right - bw
        shapes.append(dict(type="rect", xref="paper", yref="paper", x0=px(bx0), x1=px(right),
                           y0=py(top + 29), y1=py(top), line=dict(color=FRAME, width=1),
                           fillcolor="white", layer="above"))
        for k, (lab, col) in enumerate([(lab1, TEAL), (lab2, RED)]):
            yy = top + 10.3 + 9 * k
            shapes.append(dict(type="line", xref="paper", yref="paper", x0=px(bx0 + 7.5),
                               x1=px(bx0 + 22.5), y0=py(yy), y1=py(yy),
                               line=dict(color=col, width=LW), layer="above"))
            annotations.append(dict(x=px(bx0 + 28.5), y=py(yy), xref="paper", yref="paper",
                                    text=lab.replace("<", "&lt;").replace(">", "&gt;"),
                                    showarrow=False, xanchor="left", yanchor="middle",
                                    font=dict(family=SANS, size=8.3, color=TXT)))

fig.update_layout(width=W, height=H, margin=dict(l=0, r=0, t=0, b=0), autosize=False,
                  paper_bgcolor="white", plot_bgcolor="white",
                  annotations=annotations, shapes=shapes, showlegend=False, **layout)
fig.write_html("out.html")
